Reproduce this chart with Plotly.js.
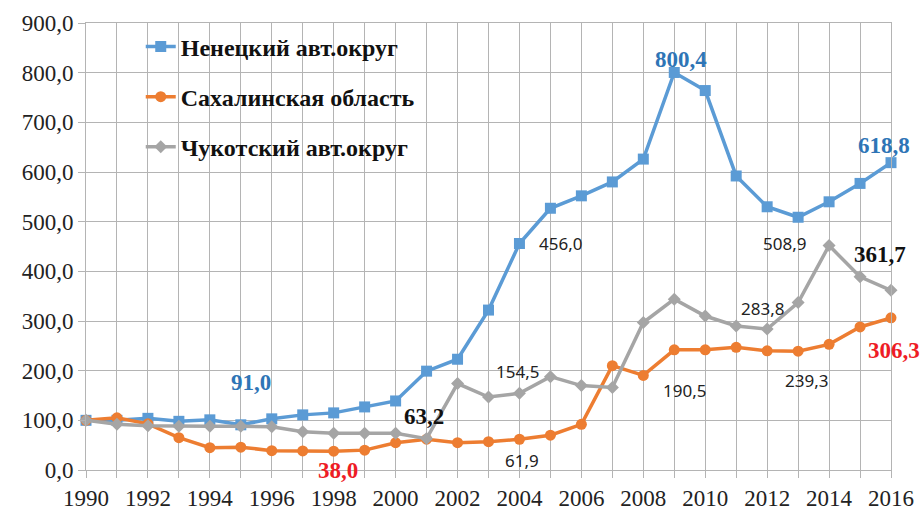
<!DOCTYPE html>
<html>
<head>
<meta charset="utf-8">
<script src="https://cdn.plot.ly/plotly-3.0.1.min.js"></script>
<style>
html,body{margin:0;padding:0;background:#fff;}
#chart{width:922px;height:516px;}
</style>
</head>
<body>
<div id="chart"></div>
<script>
const years = [1990,1991,1992,1993,1994,1995,1996,1997,1998,1999,2000,2001,2002,2003,2004,2005,2006,2007,2008,2009,2010,2011,2012,2013,2014,2015,2016];
const seriesNames = ['Ненецкий авт.округ', 'Сахалинская область', 'Чукотский авт.округ'];
const nenets   = [100,100,104,98,101,91.0,103,111,115,127,139,199,223,322,456.0,527,552,580,626,800.4,764,592,530,508.9,540,577,618.8];
const sakhalin = [100,105,93,65,45,46,39,38.5,38.0,40,55,62,55,57,61.9,70,92,210,190.5,242,242,247,240,239.3,253,288,306.3];
const chukotka = [100,92,89,88,88,88,87,77,74,74,74,63.2,174,147,154.5,188,170,166,297,344,310,290,283.8,337,452,389,361.7];
const yTicks = [0,100,200,300,400,500,600,700,800,900];

// Highlighted data labels: [series index, year]
const labelPoints = [[0,1995],[1,1998],[2,2001],[0,2004],[0,2009],[0,2016],[0,2013],[2,2016],[2,2012],[2,2004],[1,2008],[1,2013],[1,2004],[1,2016]];

const allSeries = [nenets, sakhalin, chukotka];
const colors = ['#5b9bd5', '#ed7d31', '#a5a5a5'];
const symbols = ['square', 'circle', 'diamond'];
const msizes = [11, 11, 10];

const traces = allSeries.map((s, i) => ({
  x: years, y: s, name: seriesNames[i], type: 'scatter', mode: 'lines+markers',
  line: {color: colors[i], width: 3.5},
  marker: {symbol: symbols[i], size: msizes[i], color: colors[i]},
  cliponaxis: false, legendgroup: 'g' + i
}));

const serif = 'Liberation Serif';
const sans = 'Noto Sans';
const labelStyle = {
  '0,1995': {dx: 10, dy: 42, font: {family: serif, size: 23, color: '#2e75b6', weight: 'bold'}},
  '1,1998': {dx: 4, dy: -19, font: {family: serif, size: 23, color: '#ee1c25', weight: 'bold'}},
  '2,2001': {dx: -3, dy: 22, font: {family: serif, size: 23, color: '#111', weight: 'bold'}},
  '0,2004': {dx: 41, dy: 0, font: {family: sans, size: 17, color: '#222'}},
  '0,2009': {dx: 7, dy: 13, font: {family: serif, size: 23, color: '#2e75b6', weight: 'bold'}},
  '0,2016': {dx: -7, dy: 17, font: {family: serif, size: 23, color: '#2e75b6', weight: 'bold'}},
  '0,2013': {dx: -14, dy: -26, font: {family: sans, size: 17, color: '#222'}},
  '2,2016': {dx: -11, dy: 36, font: {family: serif, size: 23, color: '#111', weight: 'bold'}},
  '2,2012': {dx: -5, dy: 21, font: {family: sans, size: 17, color: '#222'}},
  '2,2004': {dx: -2, dy: 22, font: {family: sans, size: 17, color: '#222'}},
  '1,2008': {dx: 41, dy: -15, font: {family: sans, size: 17, color: '#222'}},
  '1,2013': {dx: 8, dy: -29, font: {family: sans, size: 17, color: '#222'}},
  '1,2004': {dx: 3, dy: -21, font: {family: sans, size: 17, color: '#222'}},
  '1,2016': {dx: 3, dy: -33, font: {family: serif, size: 23, color: '#ee1c25', weight: 'bold'}}
};
const fmt = v => v.toFixed(1).replace('.', ',');
const annotations = labelPoints.map(([si, yr]) => {
  const v = allSeries[si][years.indexOf(yr)];
  const st = labelStyle[si + ',' + yr];
  return {x: yr, y: v, xref: 'x', yref: 'y', text: fmt(v), showarrow: false,
          xshift: st.dx, yshift: st.dy, font: st.font, xanchor: 'center', yanchor: 'middle'};
});

const grid = '#b4b4b4';
const layout = {
  width: 922, height: 516,
  margin: {l: 86, r: 31, t: 23, b: 46},
  paper_bgcolor: '#fff', plot_bgcolor: '#fff',
  separators: ', ',
  font: {family: serif},
  showlegend: true,
  legend: {x: 0.068, y: 0.997, xanchor: 'left', yanchor: 'top', bgcolor: 'rgba(0,0,0,0)',
           font: {family: serif, size: 24, color: '#111', weight: 'bold'},
           tracegroupgap: 16, traceorder: 'grouped'},
  xaxis: {range: [1990, 2016], tickmode: 'linear', tick0: 1990, dtick: 2,
          showgrid: true, gridcolor: grid, gridwidth: 1,
          ticks: 'outside', ticklen: 7, tickcolor: grid,
          minor: {dtick: 1, tick0: 1990, showgrid: true, gridcolor: grid, gridwidth: 1, ticks: 'outside', ticklen: 7, tickcolor: grid},
          showline: true, linecolor: grid, mirror: true, zeroline: false,
          tickfont: {family: serif, size: 23, color: '#222'}},
  yaxis: {range: [0, 900], tickmode: 'array', tickvals: yTicks, tickformat: '.1f',
          showgrid: true, gridcolor: grid, gridwidth: 1,
          ticks: 'outside', ticklen: 7, tickcolor: grid,
          showline: true, linecolor: grid, mirror: true, zeroline: false,
          tickfont: {family: serif, size: 23, color: '#222'}},
  annotations: annotations
};
Plotly.newPlot('chart', traces, layout, {displayModeBar: false, staticPlot: true});
</script>
</body>
</html>
